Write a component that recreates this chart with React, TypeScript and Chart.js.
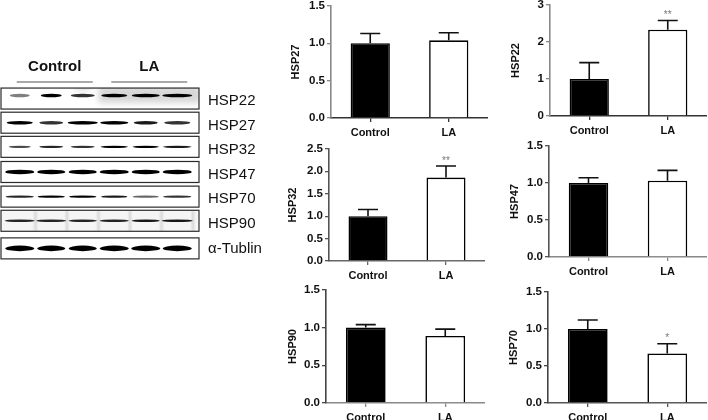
import React, { useEffect, useRef } from "react";
import { Chart, registerables } from "chart.js";

Chart.register(...registerables);

const FONT = '"Liberation Sans", Arial, sans-serif';

// ---- bar chart data ----
const categories = ["Control", "LA"];
const hsp27Values = [1.0, 1.04];
const hsp27Upper = [1.13, 1.14];
const hsp22Values = [1.0, 2.33];
const hsp22Upper = [1.44, 2.58];
const hsp32Values = [1.0, 1.86];
const hsp32Upper = [1.15, 2.12];
const hsp47Values = [1.0, 1.03];
const hsp47Upper = [1.07, 1.17];
const hsp90Values = [1.0, 0.89];
const hsp90Upper = [1.04, 0.98];
const hsp70Values = [1.0, 0.67];
const hsp70Upper = [1.12, 0.8];

// ---- blot data ----
const blotGroups = ["Control", "LA"];
const blotLanes = ["C1", "C2", "C3", "L1", "L2", "L3"];
const blotLabels = ["HSP22", "HSP27", "HSP32", "HSP47", "HSP70", "HSP90", "\u03b1-Tublin"];
const blotRows = [0, 0.98, 1.96, 2.98, 3.98, 4.96, 6.08];
const bandDarkness = [
  [0.5, 1, 0.8, 1, 1, 1],
  [1, 0.8, 1, 1, 0.9, 0.8],
  [0.7, 0.85, 0.8, 1, 1, 0.9],
  [1, 1, 1, 1, 1, 1],
  [0.85, 1, 1, 0.9, 0.6, 0.8],
  [0.85, 0.85, 0.85, 0.85, 0.9, 0.9],
  [1, 1, 1, 1, 1, 1],
];
const bandThickness = [2.8, 2.6, 1.5, 3.8, 1.5, 1.8, 4.8];
const bandWidths = [
  [20, 21, 24, 26, 28, 30],
  [26, 24, 30, 28, 24, 26],
  [22, 24, 24, 27, 26, 28],
  [29, 28, 28, 29, 28, 29],
  [28, 27, 27, 26, 26, 28],
  [30, 30, 28, 29, 28, 31],
  [29, 28, 28, 29, 29, 29],
];

const panels = [
  { label: "HSP27", values: hsp27Values, upper: hsp27Upper, max: 1.5, step: 0.5, decimals: 1, stars: ["", ""], left: 331, right: 488, top: 5, bottom: 118, titleGap: 36, yColor: "#888", xColor: "#333" },
  { label: "HSP22", values: hsp22Values, upper: hsp22Upper, max: 3, step: 1, decimals: 0, stars: ["", "**"], left: 550, right: 707, top: 4, bottom: 116, titleGap: 34.5, yColor: "#888", xColor: "#333" },
  { label: "HSP32", values: hsp32Values, upper: hsp32Upper, max: 2.5, step: 0.5, decimals: 1, stars: ["", "**"], left: 329, right: 485, top: 148, bottom: 261, titleGap: 37, yColor: "#555", xColor: "#666" },
  { label: "HSP47", values: hsp47Values, upper: hsp47Upper, max: 1.5, step: 0.5, decimals: 1, stars: ["", ""], left: 549, right: 707, top: 145, bottom: 257, titleGap: 35, yColor: "#555", xColor: "#888" },
  { label: "HSP90", values: hsp90Values, upper: hsp90Upper, max: 1.5, step: 0.5, decimals: 1, stars: ["", ""], left: 326, right: 485, top: 289, bottom: 403, titleGap: 33.5, yColor: "#444", xColor: "#888" },
  { label: "HSP70", values: hsp70Values, upper: hsp70Upper, max: 1.5, step: 0.5, decimals: 1, stars: ["", "*"], left: 548, right: 707, top: 291, bottom: 403, titleGap: 35, yColor: "#444", xColor: "#555" },
];

type Panel = (typeof panels)[number];

const AXIS_W = 50;
const AXIS_H = 26;
const PAD_T = 8;

function errorBars(panel: Panel) {
  return {
    id: "errorBars",
    afterDatasetsDraw(chart: any) {
      const { ctx } = chart;
      const y = chart.scales.y;
      const meta = chart.getDatasetMeta(0);
      ctx.save();
      meta.data.forEach((bar: any, i: number) => {
        const yTop = y.getPixelForValue(panel.upper[i]);
        const yBar = y.getPixelForValue(panel.values[i]);
        ctx.strokeStyle = "#111";
        ctx.lineWidth = 1.6;
        ctx.beginPath();
        ctx.moveTo(bar.x, yBar);
        ctx.lineTo(bar.x, yTop);
        ctx.moveTo(bar.x - 10, yTop);
        ctx.lineTo(bar.x + 10, yTop);
        ctx.stroke();
        if (panel.stars[i]) {
          ctx.fillStyle = "#777";
          ctx.font = `10px ${FONT}`;
          ctx.textAlign = "center";
          ctx.textBaseline = "middle";
          ctx.fillText(panel.stars[i], bar.x, yTop - 5);
        }
      });
      ctx.restore();
    },
  };
}

function BarPanel({ panel }: { panel: Panel }) {
  const ref = useRef<HTMLCanvasElement>(null);
  useEffect(() => {
    const chart = new Chart(ref.current as HTMLCanvasElement, {
      type: "bar",
      data: {
        labels: categories,
        datasets: [
          {
            data: panel.values,
            backgroundColor: ["#000000", "#ffffff"],
            borderColor: "#000000",
            borderWidth: 1.6,
            barPercentage: 0.5,
            categoryPercentage: 1,
          },
        ],
      },
      options: {
        animation: false,
        responsive: false,
        devicePixelRatio: 1,
        layout: { padding: { left: 0, right: 0, top: PAD_T, bottom: 0 } },
        plugins: { legend: { display: false }, tooltip: { enabled: false } },
        scales: {
          x: {
            afterFit: (s: any) => {
              s.height = AXIS_H;
            },
            grid: { drawOnChartArea: false, drawTicks: true, tickLength: 4, color: panel.xColor, lineWidth: 1.3, offset: false },
            border: { color: panel.xColor, width: 1.6 },
            ticks: { color: "#111", font: { family: FONT, size: 11, weight: "bold" }, padding: 4, maxRotation: 0 },
          },
          y: {
            min: 0,
            max: panel.max,
            afterFit: (s: any) => {
              s.width = AXIS_W;
            },
            title: { display: true, text: panel.label, color: "#111", font: { family: FONT, size: 11, weight: "bold" }, padding: { top: 44 - panel.titleGap, bottom: 0 } },
            grid: { drawOnChartArea: false, drawTicks: true, tickLength: 4, color: panel.yColor, lineWidth: 1.3 },
            border: { color: panel.yColor, width: 1.6 },
            ticks: {
              stepSize: panel.step,
              color: "#111",
              padding: 2,
              font: { family: FONT, size: 11.5, weight: "bold" },
              callback: (v: any) => Number(v).toFixed(panel.decimals),
            },
          },
        },
      },
      plugins: [errorBars(panel)],
    } as any);
    return () => chart.destroy();
  }, [panel]);
  const width = panel.right - panel.left + AXIS_W;
  const height = panel.bottom - panel.top + PAD_T + AXIS_H;
  return (
    <canvas
      ref={ref}
      width={width}
      height={height}
      style={{ position: "absolute", left: panel.left - AXIS_W, top: panel.top - PAD_T, width, height }}
    />
  );
}

const blotPlugin = {
  id: "blot",
  beforeDatasetsDraw(chart: any) {
    const { ctx, chartArea } = chart;
    const x = chart.scales.x;
    const rows = chart.scales.yRows;
    const laneW = x.getPixelForValue(1) - x.getPixelForValue(0);
    ctx.save();
    blotRows.forEach((row, r) => {
      const cy = rows.getPixelForValue(row);
      const boxL = chartArea.left - 3;
      const boxR = chartArea.right + 6;
      const boxT = cy - 10.5;
      const boxH = 21;
      ctx.save();
      ctx.beginPath();
      ctx.rect(boxL, boxT, boxR - boxL, boxH);
      ctx.fillStyle = "#ffffff";
      ctx.fill();
      ctx.clip();
      if (r === 0) {
        ctx.filter = "blur(3px)";
        ctx.fillStyle = "rgba(0,0,0,0.16)";
        ctx.fillRect(x.getPixelForValue(3) - laneW / 2, boxT - 2, laneW * 3 + 8, boxH - 4);
        ctx.fillRect(x.getPixelForValue(2) - 8, boxT - 3, 16, 5);
      }
      if (r === 5) {
        ctx.filter = "blur(1px)";
        ctx.fillStyle = "rgba(0,0,0,0.04)";
        ctx.fillRect(boxL, boxT, boxR - boxL, boxH);
        ctx.fillStyle = "rgba(0,0,0,0.16)";
        [0, 1, 2, 3, 4, 5].forEach((i) => {
          ctx.fillRect(x.getPixelForValue(i) + laneW / 2 - 1, boxT, 2, boxH);
        });
      }
      ctx.filter = "blur(0.6px)";
      bandDarkness[r].forEach((d, lane) => {
        const cx = x.getPixelForValue(lane);
        const w = bandWidths[r][lane];
        const t = bandThickness[r];
        const by = cy + (r === 0 ? -3 : 0);
        ctx.fillStyle = `rgba(0,0,0,${d})`;
        ctx.beginPath();
        ctx.ellipse(cx, by, w / 2, t / 2 + 0.4, 0, 0, Math.PI * 2);
        ctx.fill();
      });
      ctx.restore();
      ctx.strokeStyle = "#2a2a2a";
      ctx.lineWidth = 1.2;
      ctx.strokeRect(boxL, boxT, boxR - boxL, boxH);
    });
    // group headers and their rules
    const groupSpans = [
      [0, 2],
      [3, 5],
    ];
    blotGroups.forEach((g, i) => {
      const [a, b] = groupSpans[i];
      const l = x.getPixelForValue(a) - 3;
      const rr = x.getPixelForValue(b) + 10;
      ctx.strokeStyle = "#555";
      ctx.lineWidth = 1;
      ctx.beginPath();
      ctx.moveTo(l, 32);
      ctx.lineTo(rr, 32);
      ctx.stroke();
      ctx.fillStyle = "#111";
      ctx.font = `bold 15px ${FONT}`;
      ctx.textAlign = "center";
      ctx.textBaseline = "middle";
      ctx.fillText(g, (l + rr) / 2, 17);
    });
    ctx.restore();
  },
};

const hiddenAxisParts = {
  grid: { display: false, drawTicks: false },
  border: { display: false },
  ticks: { display: false },
  title: { display: false },
};

function Blot() {
  const ref = useRef<HTMLCanvasElement>(null);
  useEffect(() => {
    const chart = new Chart(ref.current as HTMLCanvasElement, {
      type: "scatter",
      data: {
        labels: blotLanes,
        datasets: [
          {
            data: blotRows.flatMap((row) => blotLanes.map((lane) => ({ x: lane, y: row }))),
            yAxisID: "yRows",
            pointRadius: 0,
          },
        ],
      },
      options: {
        animation: false,
        responsive: false,
        maintainAspectRatio: false,
        devicePixelRatio: 1,
        layout: { padding: { left: 4, right: 0, top: 38.4, bottom: 5 } },
        plugins: { legend: { display: false }, tooltip: { enabled: false } },
        scales: {
          x: {
            ...hiddenAxisParts,
            type: "category",
            labels: blotLanes,
            offset: true,
            afterFit: (s: any) => {
              s.height = 0;
            },
          },
          yRows: {
            ...hiddenAxisParts,
            axis: "y",
            position: "left",
            type: "linear",
            min: -0.412,
            max: 6.592,
            reverse: true,
            afterFit: (s: any) => {
              s.width = 0;
            },
          },
          yLabels: {
            axis: "y",
            type: "category",
            position: "right",
            labels: blotLabels,
            offset: true,
            afterFit: (s: any) => {
              s.width = 77;
            },
            grid: { display: false, drawTicks: false },
            border: { display: false },
            ticks: { color: "#111", padding: 15, font: { family: FONT, size: 15 }, autoSkip: false, maxRotation: 0 },
          },
        },
      },
      plugins: [blotPlugin],
    } as any);
    return () => chart.destroy();
  }, []);
  return (
    <canvas
      ref={ref}
      width={270}
      height={235}
      style={{ position: "absolute", left: 0, top: 50, width: 270, height: 235 }}
    />
  );
}

export default function App() {
  return (
    <div style={{ position: "fixed", left: 0, top: 0, width: 708, height: 420, background: "#fff", overflow: "hidden" }}>
      <Blot />
      {panels.map((p) => (
        <BarPanel key={p.label} panel={p} />
      ))}
    </div>
  );
}
